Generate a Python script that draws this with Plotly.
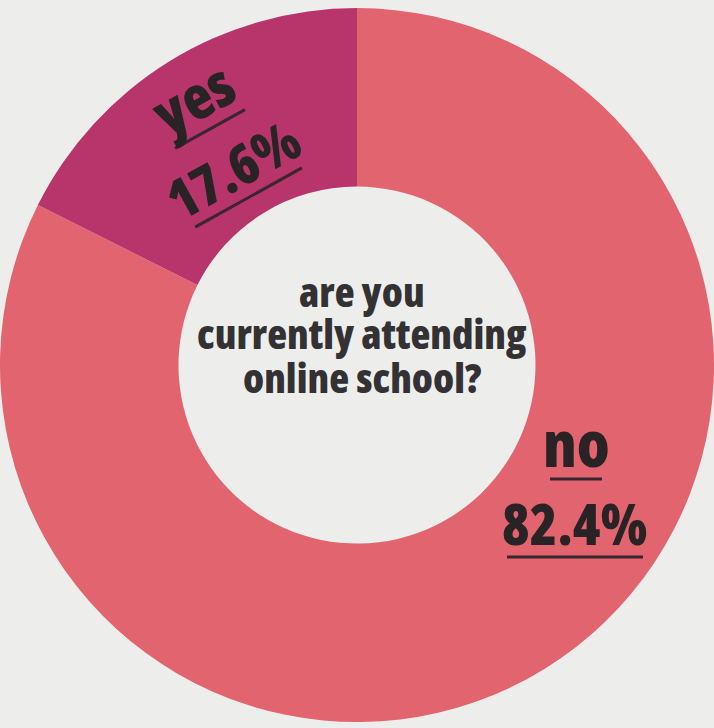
import math
import plotly.graph_objects as go

# ---- data ----
labels = ["no", "yes"]
values = [82.4, 17.6]
colors = ["#E2646F", "#B8356B"]
question_lines = ["are you", "currently attending", "online school?"]

W, H = 714, 728
FAM = "Open Sans"
INK = "#2A2326"
RULE = "#3A2630"


def cond(s):
    return f"<span style='font-stretch:condensed'>{s}</span>"


def px(x, y):
    return x / W, 1 - y / H


def note(text, cx, cy, size, color=INK, angle=0):
    x, y = px(cx, cy)
    fig.add_annotation(x=x, y=y, xref="paper", yref="paper", text=cond(text),
                       xanchor="center", yanchor="middle", showarrow=False,
                       textangle=-angle,
                       font=dict(family=FAM, size=size, color=color, weight=800))


fig = go.Figure(go.Pie(
    labels=labels,
    values=values,
    hole=0.5,
    sort=False,
    direction="clockwise",
    rotation=0,
    marker=dict(colors=colors, line=dict(width=0)),
    textinfo="none",
    hoverinfo="label+percent",
    showlegend=False,
    domain=dict(x=[0, 1], y=[0, 0.997]),
))

# centre question, one annotation per line
for line, yc in zip(question_lines, [291, 333, 377]):
    note(line, 362, yc, 41, color="#333133")

# "no" label (upright)
no_i = labels.index("no")
note(labels[no_i], 576, 443, 64)
note(f"{values[no_i]:.1f}%", 575, 523, 56)
for (x0, x1, yy) in [(550, 602, 479), (507, 643, 557)]:
    fig.add_shape(type="line", xref="paper", yref="paper",
                  x0=x0 / W, x1=x1 / W, y0=1 - yy / H, y1=1 - yy / H,
                  line=dict(color=RULE, width=3))

# "yes" label (rotated)
ang = 29.0
ux, uy = math.cos(math.radians(ang)), -math.sin(math.radians(ang))   # baseline dir
nx, ny = -math.sin(math.radians(ang)), -math.cos(math.radians(ang))  # 'up' dir
yes_i = labels.index("yes")
for text, (mx, my), half, off, size in [
    (labels[yes_i], (210, 129), 40, 35, 60),
    (f"{values[yes_i]:.1f}%", (248.5, 197.5), 61, 33, 55),
]:
    note(text, mx + off * nx, my + off * ny, size, angle=ang)
    fig.add_shape(type="line", xref="paper", yref="paper",
                  x0=(mx - half * ux) / W, y0=1 - (my - half * uy) / H,
                  x1=(mx + half * ux) / W, y1=1 - (my + half * uy) / H,
                  line=dict(color=RULE, width=3))

fig.update_layout(
    width=W, height=H,
    margin=dict(l=0, r=0, t=0, b=0),
    paper_bgcolor="#EDEEEC",
    plot_bgcolor="#EDEEEC",
)
fig.write_html("out.html", config={"displayModeBar": False},
               post_script="document.body.style.margin='0';")
